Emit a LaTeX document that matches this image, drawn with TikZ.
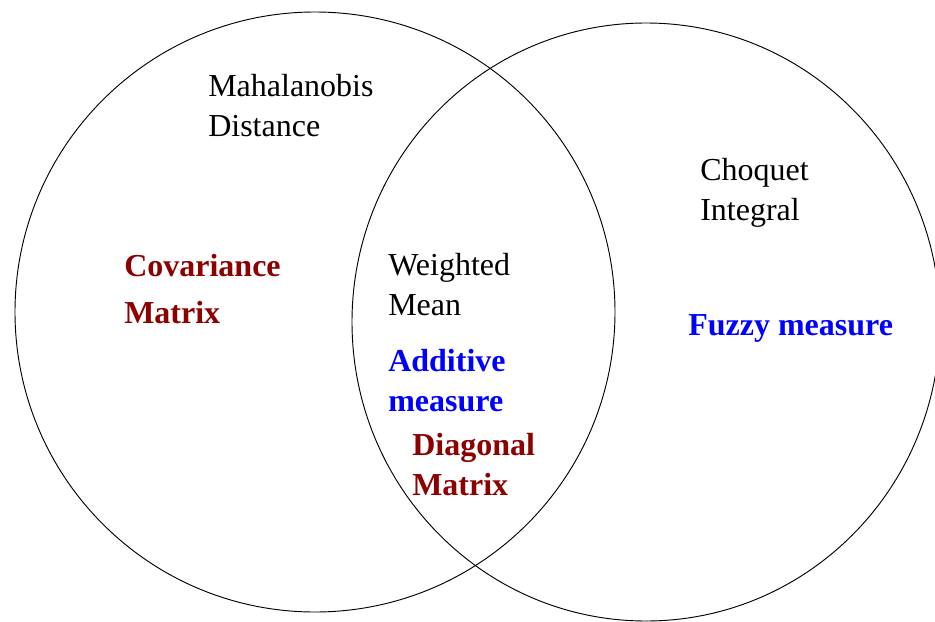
\documentclass[tikz,border=0pt]{standalone}
\usepackage{fontspec}
\setmainfont{Liberation Serif}
\definecolor{matred}{RGB}{140,0,0}
\definecolor{measblue}{RGB}{0,0,255}

\begin{document}
\begin{tikzpicture}[x=0.75pt, y=-0.75pt,
    lbl/.style={anchor=base west, inner sep=0pt, align=left,
      font=\fontsize{24}{30}\selectfont},
    redlbl/.style={lbl, text=matred, font=\fontsize{24}{30}\selectfont\bfseries},
    bluelbl/.style={lbl, text=measblue, font=\fontsize{24}{30}\selectfont\bfseries}]
  \useasboundingbox (0,0) rectangle (935,621);
  \clip (0,0) rectangle (935,621);
  \draw[line width=0.7pt] (315,312) circle [radius=300];
  \draw[line width=0.7pt] (646,322) ellipse [x radius=294, y radius=299];
  % base anchor sits on the last line
  \node[lbl] (maha) at (208,136) {Mahalanobis\\Distance};
  \node[redlbl, font=\fontsize{24}{35}\selectfont\bfseries] (cov) at (124,323) {Covariance\\Matrix};
  \node[lbl] (wmean) at (388,315) {Weighted\\Mean};
  \node[bluelbl] (add) at (388,411) {Additive\\measure};
  \node[redlbl] (diag) at (412,495) {Diagonal\\Matrix};
  \node[lbl] (choq) at (700,220) {Choquet\\Integral};
  \node[bluelbl] (fuzzy) at (688,335) {Fuzzy measure};
\end{tikzpicture}
\end{document}
